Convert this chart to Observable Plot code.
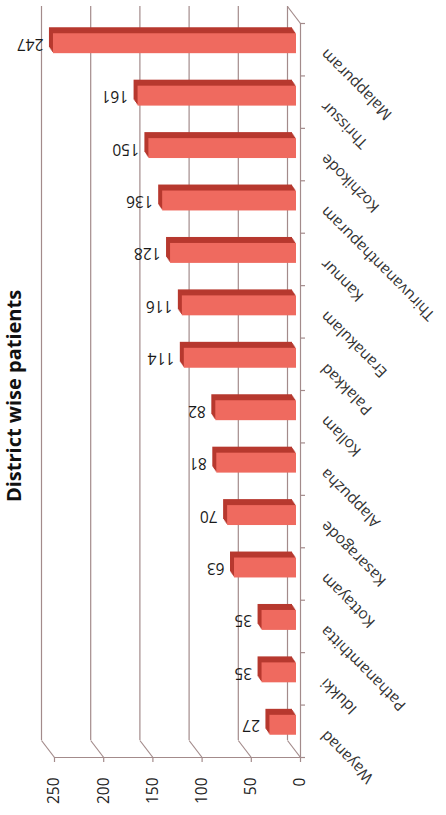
<!DOCTYPE html>
<html>
<head>
<meta charset="utf-8">
<script src="https://cdn.jsdelivr.net/npm/d3@7"></script>
<script src="https://cdn.jsdelivr.net/npm/@observablehq/plot@0.6"></script>
<style>
  html, body { margin: 0; padding: 0; background: #ffffff; }
  #chart { position: absolute; left: 0; top: 0; width: 446px; height: 815px; overflow: hidden; }
</style>
</head>
<body>
<div id="chart"></div>
<script>
// ---- data ----
const title = "District wise patients";
const districts = ["Malappuram","Thrissur","Kozhikode","Thiruvananthapuram","Kannur","Eranakulam","Palakkad","Kollam","Alappuzha","Kasaragode","Kottayam","Pathanamthitta","Idukki","Wayanad"];
const cases = [247,161,150,136,128,116,114,82,81,70,63,35,35,27];
const valueTicks = [0,50,100,150,200,250];

// ---- layout / style ----
const W = 446, H = 815;
const xRange = [300, 54];          // value 0 at right, 250 at left (front plane)
const yRange = [23, 757];          // category band positions (front plane)
const n = districts.length;
const kx = (xRange[0] - xRange[1]) / 250;     // px per value unit
const ky = (yRange[1] - yRange[0]) / n;       // px per category
const depthX = 13 / kx, depthY = 17 / ky;     // 3-D wall depth in data units
const pad = 0.31;
const grid = "#a38b8b";
const front = "#ef6a5f", dark = "#b7392f";

const rows = districts.map((d, i) => ({district: d, value: cases[i], i}));

const extrude = [0, 0.2, 0.4, 0.6, 0.8].map(t =>
  Plot.rect(rows, {x1: 0, x2: "value", y1: d => d.i + pad, y2: d => d.i + 1 - pad,
    dx: -8 + 4 * t, dy: -12 + 6 * t, fill: dark}));

const chart = Plot.plot({
  width: W, height: H,
  marginTop: 0, marginRight: 0, marginBottom: 0, marginLeft: 0,
  style: {fontFamily: "'Open Sans', sans-serif", background: "#ffffff", overflow: "visible"},
  x: {domain: [0, 250], range: xRange, axis: null},
  y: {domain: [0, n], range: yRange, axis: null},
  marks: [
    // back wall gridlines
    Plot.ruleX(valueTicks, {x: d => d + depthX, y1: -depthY, y2: n - depthY, stroke: grid, strokeWidth: 1.2}),
    // floor diagonals
    Plot.link(valueTicks, {x1: d => d + depthX, y1: n - depthY, x2: d => d, y2: n, stroke: grid, strokeWidth: 1.2}),
    // side wall top diagonal
    Plot.link([0], {x1: d => d + depthX, y1: -depthY, x2: d => d, y2: 0, stroke: grid, strokeWidth: 1.2}),
    // front floor line
    Plot.ruleY([n], {x1: 0, x2: 250, stroke: grid, strokeWidth: 1.2}),
    // category axis line + ticks
    Plot.ruleX([0], {y1: 0, y2: n, stroke: grid, strokeWidth: 1.2}),
    Plot.ruleY(d3.range(n + 1), {y: d => d, x1: 0, x2: -5 / kx, stroke: grid, strokeWidth: 1.2}),
    // value ticks
    Plot.ruleX(valueTicks, {x: d => d, y1: n, y2: n + 5 / ky, stroke: grid, strokeWidth: 1.2}),
    Plot.text(valueTicks, {x: d => d, y: n, dy: 20, rotate: -90, textAnchor: "end", text: d => String(d),
      fontSize: 15.5, fill: "#222"}),
    // bars (3-D extrusion + front face)
    ...extrude,
    Plot.rect(rows, {x1: 0, x2: "value", y1: d => d.i + pad, y2: d => d.i + 1 - pad,
      dx: -4, dy: -6, fill: front}),
    // value labels
    Plot.text(rows, {x: "value", y: d => d.i + 0.5, dx: -14, dy: -6, rotate: 180, textAnchor: "start",
      text: d => String(d.value), fontSize: 15.5, fill: "#1a1a1a"}),
    // category labels
    Plot.text(rows, {x: 0, y: d => d.i + 0.5, dx: 23, dy: 2, rotate: 225, textAnchor: "end",
      text: "district", fontSize: 15.5, fill: "#333"}),
    // title along the left edge
    Plot.text([title], {frameAnchor: "left", dx: 6, dy: -12, rotate: -90, textAnchor: "middle", lineAnchor: "top",
      text: d => d, fontSize: 20, fontWeight: "bold", fill: "#111"})
  ]
});
document.getElementById("chart").appendChild(chart);
</script>
</body>
</html>
